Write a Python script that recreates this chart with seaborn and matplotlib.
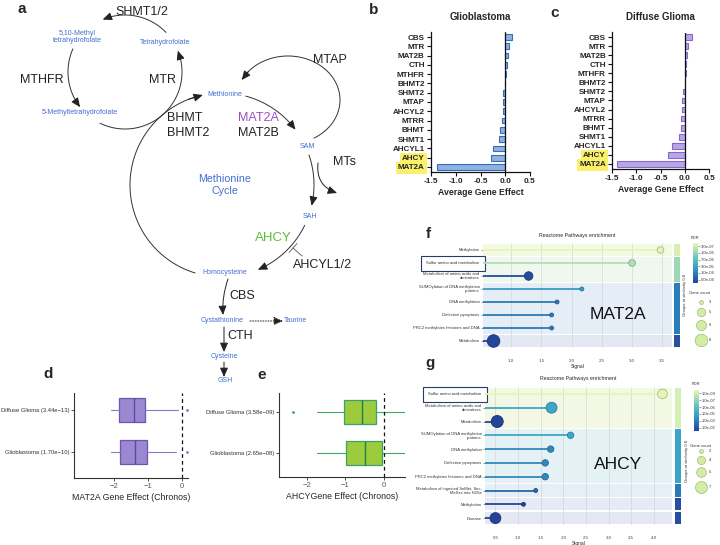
import numpy as np
import matplotlib
matplotlib.use('Agg')
import matplotlib.pyplot as plt
import seaborn as sns
from matplotlib.colors import LinearSegmentedColormap, LogNorm

# ---- panel b / c : average gene effect per gene
genes = ['CBS', 'MTR', 'MAT2B', 'CTH', 'MTHFR', 'BHMT2', 'SHMT2', 'MTAP',
         'AHCYL2', 'MTRR', 'BHMT', 'SHMT1', 'AHCYL1', 'AHCY', 'MAT2A']
gbm_effect = [0.13, 0.08, 0.05, 0.03, 0.01, 0.0, -0.04, -0.05,
              -0.055, -0.06, -0.10, -0.12, -0.25, -0.29, -1.38]
dg_effect = [0.14, 0.07, 0.05, 0.03, 0.03, 0.0, -0.04, -0.06,
             -0.06, -0.08, -0.08, -0.11, -0.26, -0.34, -1.40]
highlight = ['AHCY', 'MAT2A']

# ---- panel d / e : box summaries (whislo, q1, median, q3, whishi)
box_groups = ['Diffuse Glioma', 'Glioblastoma']
mat2a_pvals = ['3.44e\u221213', '1.70e\u221210']
mat2a_box = [[-2.10, -1.84, -1.42, -1.09, -0.10],
             [-2.10, -1.82, -1.37, -1.03, -0.17]]
mat2a_fliers = [[0.17], [0.17]]
ahcy_pvals = ['3.58e\u221209', '2.65e\u221208']
ahcy_box = [[-1.73, -1.04, -0.58, -0.21, 0.60],
            [-1.73, -0.99, -0.49, -0.06, 0.60]]
ahcy_fliers = [[-2.36], []]

# ---- panel f : Reactome enrichment for MAT2A
f_terms = ['Methylation', 'Sulfur amino acid metabolism',
           'Metabolism of amino acids and\nderivatives',
           'SUMOylation of DNA methylation\nproteins', 'DNA methylation',
           'Defective pyroptosis', 'PRC2 methylates histones and DNA', 'Metabolism']
f_signal = [3.47, 3.00, 1.29, 2.17, 1.76, 1.67, 1.67, 0.71]
f_fdr = [3.0e-7, 1.0e-6, 4.0e-4, 3.0e-5, 1.0e-4, 1.0e-4, 1.0e-4, 5.0e-4]
f_count = [4, 4, 5, 3, 3, 3, 3, 8]
f_group = [0, 1, 1, 2, 2, 2, 2, 3]
f_fdr_labels = ['3.0e-07', '1.0e-06', '7.0e-06', '3.0e-05', '1.0e-04', '5.0e-04']
f_count_breaks = [3, 5, 6, 8]

# ---- panel g : Reactome enrichment for AHCY
g_terms = ['Sulfur amino acid metabolism',
           'Metabolism of amino acids and\nderivatives', 'Metabolism',
           'SUMOylation of DNA methylation\nproteins', 'DNA methylation',
           'Defective pyroptosis', 'PRC2 methylates histones and DNA',
           'Metabolism of ingested SeMet, Sec,\nMeSec into H2Se',
           'Methylation', 'Disease']
g_signal = [4.19, 1.74, 0.54, 2.16, 1.72, 1.60, 1.60, 1.39, 1.12, 0.50]
g_fdr = [1e-9, 1e-5, 1e-2, 1e-5, 1e-4, 1e-4, 1e-4, 1e-3, 1e-2, 1e-2]
g_count = [5, 6, 7, 3, 3, 3, 3, 2, 2, 6]
g_group = [0, 0, 0, 1, 1, 1, 1, 2, 3, 4]
g_fdr_labels = ['1.0e-09', '1.0e-07', '1.0e-06', '1.0e-05', '1.0e-03', '1.0e-02']
g_count_breaks = [2, 4, 5, 7]

sns.set_theme(style='white')
plt.rcParams['font.family'] = ['Liberation Sans', 'DejaVu Sans']

W, H = 720, 545
fig = plt.figure(figsize=(7.2, 5.45), dpi=100)


def px_axes(x0, y0, x1, y1, **kw):
    return fig.add_axes([x0 / W, 1 - y1 / H, (x1 - x0) / W, (y1 - y0) / H], **kw)


fdr_cmap = LinearSegmentedColormap.from_list(
    'fdr', ['#e6f5b3', '#a6dcb4', '#5ec2bf', '#37a3c9', '#2b75b5', '#24449a'])
BLUE = '#3f6fcf'
DARK = '#222222'


# ================= b / c : bar charts =================
def bar_panel(box, vals, face, edge, title):
    ax = px_axes(*box)
    sns.barplot(x=vals, y=genes, order=genes, orient='h', color=face, saturation=1,
                edgecolor=edge, linewidth=0.8, width=0.62, ax=ax)
    ax.set_xlim(-1.5, 0.5)
    ax.set_ylim(len(genes) - 0.5, -0.5)
    ax.axvline(0, color='#111111', lw=0.9)
    sns.despine(ax=ax)
    for s in ['left', 'bottom']:
        ax.spines[s].set_color('#111111')
        ax.spines[s].set_linewidth(0.9)
    ax.set_xticks([-1.5, -1.0, -0.5, 0.0, 0.5])
    ax.set_xticklabels(['-1.5', '-1.0', '-0.5', '0.0', '0.5'], fontsize=6, fontweight='bold')
    ax.set_yticks(range(len(genes)))
    ax.set_yticklabels(genes, fontsize=5.8, fontweight='bold')
    ax.tick_params(left=True, bottom=True, length=3, width=0.8, color='#111111', pad=1.5)
    for lbl in ax.get_yticklabels():
        if lbl.get_text() in highlight:
            lbl.set_bbox(dict(boxstyle='square,pad=0.3', fc='#fbf06a', ec='none'))
    ax.set_title(title, fontsize=7, fontweight='bold', pad=9)
    ax.set_xlabel('Average Gene Effect', fontsize=6.3, fontweight='bold', labelpad=2)
    ax.set_ylabel('')


bar_panel((431, 32.4, 530, 171.6), gbm_effect, '#8db2e3', '#3b6cb7', 'Glioblastoma')
bar_panel((612, 32.5, 709, 168.5), dg_effect, '#b9a6e6', '#8468cc', 'Diffuse Glioma')


# ================= d / e : box plots =================
def box_panel(box, vals, fliers, pvals, face, edge, med, whisk, xlim, xlabel, ylim):
    ax = px_axes(*box)
    stats = []
    for v, fl, grp, p in zip(vals, fliers, box_groups, pvals):
        stats.append(dict(whislo=v[0], q1=v[1], med=v[2], q3=v[3], whishi=v[4],
                          fliers=fl, label=f'{grp} ({p})'))
    ax.bxp(stats, positions=range(len(stats)), widths=0.58, vert=False,
           patch_artist=True, showcaps=False,
           boxprops=dict(facecolor=face, edgecolor=edge, lw=0.9),
           medianprops=dict(color=med, lw=1.0),
           whiskerprops=dict(color=whisk, lw=0.8),
           flierprops=dict(marker='.', ms=2, mfc=whisk, mec=whisk))
    ax.axvline(0, color='#111111', lw=0.9, ls=(0, (3, 2.5)))
    ax.set_xlim(*xlim)
    ax.set_ylim(*ylim)
    sns.despine(ax=ax)
    for s in ['left', 'bottom']:
        ax.spines[s].set_color('#333333')
        ax.spines[s].set_linewidth(0.8)
    ax.set_xticks([-2, -1, 0])
    ax.set_xticklabels(['\u22122', '\u22121', '0'], fontsize=5.5, color='#555555')
    ax.tick_params(axis='y', labelsize=4.2, labelcolor='#333333')
    ax.tick_params(left=True, bottom=True, length=2, width=0.6, color='#333333', pad=1.5)
    ax.set_xlabel(xlabel, fontsize=6.3, labelpad=2)


box_panel((74, 393, 188, 478), mat2a_box, mat2a_fliers, mat2a_pvals,
          '#9c88d0', '#6b57b0', '#5a4a9e', '#8a78c8', (-3.18, 0.19),
          'MAT2A Gene Effect (Chronos)', (1.62, -0.405))
box_panel((279, 393, 405, 477), ahcy_box, ahcy_fliers, ahcy_pvals,
          '#9ccc3c', '#3aa070', '#1f7f4f', '#3aaa6a', (-2.73, 0.55),
          'AHCYGene Effect (Chronos)', (1.59, -0.46))


# ================= f / g : enrichment lollipops =================
def enrichment(box, side_box, terms, signal, fdr, count, group, band_cols, side_cols,
               norm, sizes, size_norm, xlim, xticks, big, big_xy):
    ax = px_axes(*box)
    side = px_axes(*side_box)
    pos = np.arange(len(terms))
    ax.set_xlim(*xlim)
    for g in sorted(set(group)):
        rows = [p for p, gg in zip(pos, group) if gg == g]
        ax.axhspan(min(rows) - 0.44, max(rows) + 0.44, color=band_cols[g], lw=0, zorder=0)
        side.axhspan(min(rows) - 0.44, max(rows) + 0.44, color=side_cols[g], lw=0)
    cols = [fdr_cmap(norm(v)) for v in fdr]
    ax.hlines(pos, xlim[0], signal, colors=cols, lw=1.3, zorder=2)
    sns.scatterplot(x=signal, y=pos, hue=fdr, hue_norm=norm, palette=fdr_cmap,
                    size=count, sizes=sizes, size_norm=size_norm, legend=False,
                    linewidth=0.6, ax=ax, zorder=3)
    ax.collections[-1].set_edgecolor([tuple(np.array(c[:3]) * 0.75) for c in cols])
    ax.set_ylim(len(terms) - 0.5, -0.5)
    side.set_ylim(len(terms) - 0.5, -0.5)
    side.set_xlim(0, 1)
    side.axis('off')
    for s in ax.spines.values():
        s.set_visible(False)
    ax.set_axisbelow(True)
    ax.grid(axis='x', color='#d6d6d6', lw=0.5)
    ax.set_xticks(xticks)
    ax.set_xticklabels([f'{t:.1f}' for t in xticks], fontsize=3.2, color='#444444')
    ax.set_yticks(pos)
    ax.set_yticklabels(terms, fontsize=3, color='#333333', linespacing=0.95)
    ax.tick_params(axis='y', left=True, length=1.5, width=0.4, color='#555555', pad=1)
    ax.tick_params(axis='x', bottom=False, pad=2)
    for lbl in ax.get_yticklabels():
        if lbl.get_text() == 'Sulfur amino acid metabolism':
            lbl.set_bbox(dict(boxstyle='square,pad=1.3', fc='white', ec='#2b3a67', lw=0.8))
    ax.set_title('Reactome Pathways enrichment', fontsize=3.8, pad=5)
    ax.set_xlabel('Signal', fontsize=3.5, labelpad=1)
    ax.set_ylabel('')
    ax.text(big_xy[0], big_xy[1], big, transform=ax.transAxes, fontsize=12.5,
            ha='center', va='center', color='#111111')


f_norm = LogNorm(3e-7, 5e-4)
g_norm = LogNorm(1e-9, 1e-2)
f_sizes, f_snorm = (8, 82), (3, 8)
g_sizes, g_snorm = (8, 75), (2, 7)

enrichment((483, 243.5, 672, 347.5), (673.5, 243.5, 679.5, 347.5), f_terms, f_signal,
           f_fdr, f_count, f_group,
           ['#f3f9e3', '#eff7ee', '#e5eef7', '#e3e8f3'],
           ['#d8efb0', '#9dd8b4', '#2b7fb8', '#2750a0'],
           f_norm, f_sizes, f_snorm, (0.536, 3.66),
           [1.0, 1.5, 2.0, 2.5, 3.0, 3.5], 'MAT2A', (0.714, 0.322))
enrichment((485, 387, 672, 525), (675, 387, 681, 525), g_terms, g_signal,
           g_fdr, g_count, g_group,
           ['#f3f8e5', '#e4f2f6', '#e6eef6', '#e5eaf4', '#e4e8f3'],
           ['#d4efb5', '#37a6c9', '#2b7ab8', '#2550a0', '#2550a0'],
           g_norm, g_sizes, g_snorm, (0.27, 4.40),
           [0.5, 1.0, 1.5, 2.0, 2.5, 3.0, 3.5, 4.0], 'AHCY', (0.711, 0.435))


def fdr_legend(x0, y0, x1, y1, labels):
    lax = px_axes(x0, y0, x1, y1)
    lax.imshow(np.linspace(0, 1, 64)[:, None], cmap=fdr_cmap, aspect='auto',
               extent=(0, 1, 0, 1))
    lax.yaxis.tick_right()
    lax.set_yticks([1 - (i + 0.5) / len(labels) for i in range(len(labels))])
    lax.set_yticklabels(labels, fontsize=3, color='#333333')
    lax.set_xticks([])
    lax.tick_params(axis='y', right=True, length=1.5, width=0.4, color='#555555', pad=0.8)
    for s in lax.spines.values():
        s.set_visible(False)


fdr_legend(693, 243, 698, 283, f_fdr_labels)
fdr_legend(694, 390, 699, 431, g_fdr_labels)

# ================= overlay: diagram (a), panel letters, size legends =================
ov = fig.add_axes([0, 0, 1, 1], zorder=10)
ov.set_xlim(0, W)
ov.set_ylim(H, 0)
ov.axis('off')


def size_legend(title_xy, ys, breaks, sizes, snorm):
    ov.text(*title_xy, 'Gene count', fontsize=3, ha='center', va='center', color='#333333')
    for y, c in zip(ys, breaks):
        s = sizes[0] + (c - snorm[0]) / (snorm[1] - snorm[0]) * (sizes[1] - sizes[0])
        ov.scatter([701], [y], s=s, color='#d4eda6', edgecolor='#9cbf7a', lw=0.5)
        ov.text(709, y, str(c), fontsize=3, va='center', color='#333333')


size_legend((700, 293), [302, 312, 325, 340], f_count_breaks, f_sizes, f_snorm)
size_legend((701, 446), [451, 460, 472, 487], g_count_breaks, g_sizes, g_snorm)
ov.text(695, 238, 'FDR', fontsize=3, ha='center', va='center', color='#333333')
ov.text(696, 384, 'FDR', fontsize=3, ha='center', va='center', color='#333333')
ov.text(685, 295, 'Groups at similarity 0.8', fontsize=3, rotation=90,
        ha='center', va='center', color='#333333')
ov.text(687, 461, 'Groups at similarity 0.8', fontsize=3, rotation=90,
        ha='center', va='center', color='#333333')

for lab, (x, y) in zip('abcdefg', [(22, 9), (374, 10), (555, 13), (48, 374),
                                   (262, 375), (428, 234), (430, 363)]):
    ov.text(x, y, lab, fontsize=11, fontweight='bold', ha='center', va='center')


def arc(cx, cy, rx, ry, a0, a1, arrow=True):
    t = np.radians(np.linspace(a0, a1, 80))
    xs = cx + rx * np.cos(t)
    ys = cy - ry * np.sin(t)
    ov.plot(xs[:-2], ys[:-2], color='#333333', lw=0.7)
    if arrow:
        ov.annotate('', xy=(xs[-1], ys[-1]), xytext=(xs[-6], ys[-6]),
                    arrowprops=dict(arrowstyle='-|>,head_length=0.5,head_width=0.22',
                                    color=DARK, lw=0.7, mutation_scale=11,
                                    shrinkA=0, shrinkB=0))


def arrow(p0, p1, rad=0.0, ls='-'):
    ov.annotate('', xy=p1, xytext=p0,
                arrowprops=dict(arrowstyle='-|>,head_length=0.5,head_width=0.22',
                                color=DARK, lw=0.7, ls=ls, mutation_scale=11,
                                shrinkA=0, shrinkB=0,
                                connectionstyle=f'arc3,rad={rad}'))


# folate cycle
arc(125, 72, 57, 57, 44, 113)
arc(125, 72, 57, 57, 156, 218)
arc(125, 72, 57, 57, 244, 382)
# methionine cycle
arc(222, 185, 92, 92, 253, 102)
arc(222, 185, 92, 92, 75, 37)
arc(222, 185, 92, 92, 19, -13)
arc(222, 185, 92, 92, -26, -67)
arc(288, 100, 52, 44, -60, 153)
arrow((318, 163), (337, 193), rad=0.4)
# transsulfuration
arrow((228, 279), (223, 315), rad=0.1)
arrow((224, 327), (224, 352))
arrow((224, 362), (224, 377))
arrow((250, 321), (283, 321), ls=':')
ov.plot([302, 293], [256, 248], color='#555555', lw=0.6)
ov.plot([289, 297], [252.5, 243.5], color='#555555', lw=0.6)

enz = dict(fontsize=9, color=DARK, va='center')
met = dict(fontsize=5, color=BLUE, va='center', ha='center')
ov.text(142, 12, 'SHMT1/2', ha='center', **enz)
ov.text(42, 80, 'MTHFR', ha='center', **enz)
ov.text(163, 80, 'MTR', ha='center', **enz)
ov.text(330, 60, 'MTAP', ha='center', **enz)
ov.text(167, 118, 'BHMT', **enz)
ov.text(167, 133, 'BHMT2', **enz)
ov.text(238, 118, 'MAT2A', fontsize=9, color='#9b4fbf', va='center')
ov.text(238, 133, 'MAT2B', **enz)
ov.text(333, 162, 'MTs', **enz)
ov.text(273, 238, 'AHCY', fontsize=9.5, color='#5cbf3a', ha='center', va='center')
ov.text(293, 265, 'AHCYL1/2', **enz)
ov.text(229, 296, 'CBS', **enz)
ov.text(227, 336, 'CTH', **enz)
ov.text(77, 37, '5,10-Methyl\ntetrahydrofolate', linespacing=1.1, **met)
ov.text(165, 43, 'Tetrahydrofolate', **met)
ov.text(225, 95, 'Methionine', **met)
ov.text(80, 113, '5-Methyltetrahydrofolate', **met)
ov.text(307, 147, 'SAM', **met)
ov.text(310, 216, 'SAH', **met)
ov.text(225, 272, 'Homocysteine', **met)
ov.text(222, 320, 'Cystathionine', **met)
ov.text(296, 320, 'Taurine', **met)
ov.text(224, 357, 'Cysteine', **met)
ov.text(225, 381, 'GSH', **met)
ov.text(225, 185, 'Methionine\nCycle', fontsize=7.7, color=BLUE, ha='center',
        va='center', linespacing=1.3)

fig.savefig('out.png', dpi=100)
